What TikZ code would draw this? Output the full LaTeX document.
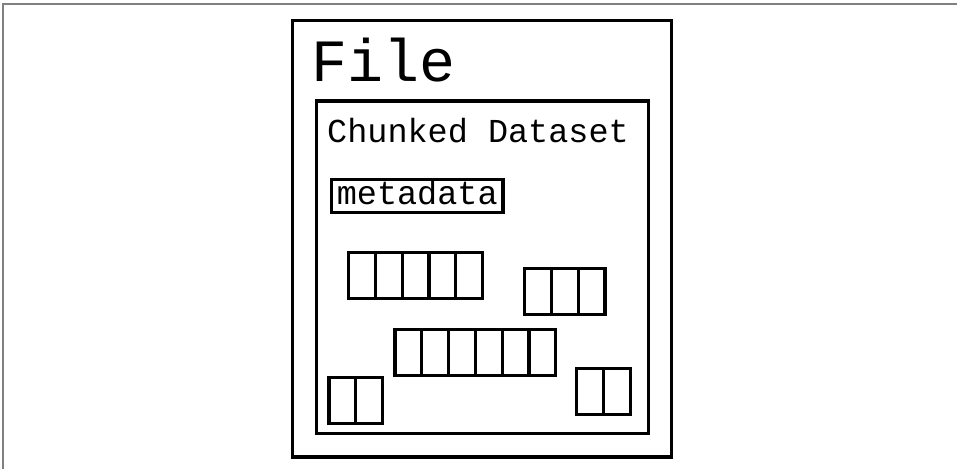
\documentclass[tikz,border=0pt]{standalone}
\usepackage{fontspec}
\setmonofont{Liberation Mono}
\begin{document}
\begin{tikzpicture}[x=1pt,y=-1pt,
  frame/.style={draw=black!50,line width=1.5pt},
  box/.style={draw=black,line width=3.2pt},
  cell/.style={draw=black,line width=3.2pt},
  lbl/.style={inner sep=0pt,anchor=base west,font=\ttfamily}]
\useasboundingbox (0,0) rectangle (957,469);
% gray page frame (top and left only)
\draw[frame] (3,469) -- (3,4) -- (957,4);
% file box
\draw[box] (292.5,20.5) rectangle (671.5,457);
\node[lbl,font=\ttfamily\fontsize{60}{60}\selectfont] (file) at (311,81.7) {File};
% dataset box
\draw[box] (316.5,101) rectangle (648.5,433.5);
\node[lbl,font=\ttfamily\fontsize{33.5}{33.5}\selectfont] (ds) at (327,142) {Chunked Dataset};
% metadata
\node[box,inner sep=0pt,minimum width=171.5pt,minimum height=33pt,
      text height=18.5pt,text depth=2.5pt,
      font=\ttfamily\fontsize{33.5}{33.5}\selectfont] (meta) at (417.25,196) {metadata};
% chunks
\def\cw{26.8}
\def\ch{46}
\foreach \x/\y/\n/\nm in {348.5/252.5/5/A, 524.5/268.5/3/B, 395/329.5/6/C, 329/377.5/2/D, 576.5/368.5/2/E}{
  \foreach \i in {1,...,\n}{
    \draw[cell] ({\x+(\i-1)*\cw},\y) rectangle ({\x+\i*\cw},{\y+\ch});
  }
}
\end{tikzpicture}
\end{document}
